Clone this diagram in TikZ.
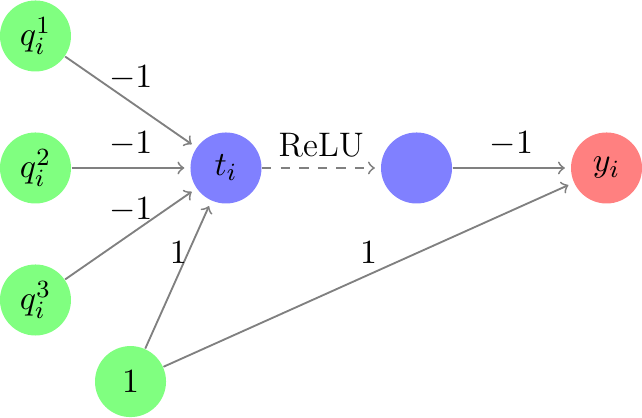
\documentclass[tikz,border=0pt]{standalone}
\usepackage{tikz}
\usetikzlibrary{arrows.meta, positioning}
\usepackage{amsmath}

\begin{document}
\begin{tikzpicture}[>=to, font=\fontsize{11}{13}\selectfont,
    neuron/.style={circle, minimum size=0.807cm, inner sep=0pt},
    inneuron/.style={neuron, fill=green!50},
    hidneuron/.style={neuron, fill=blue!50},
    outneuron/.style={neuron, fill=red!50},
    conn/.style={->, semithick, gray, text=black, shorten >=1.8pt}]
  \useasboundingbox (0,0) rectangle (7.295,4.739);

  % Inputs
  \node[inneuron] (q1) at (0.403, 4.330) {$q_i^1$};
  \node[inneuron] (q2) at (0.403, 2.830) {$q_i^2$};
  \node[inneuron] (q3) at (0.403, 1.330) {$q_i^3$};
  \node[inneuron] (bias) at (1.483, 0.403) {$1$};

  % Hidden and output
  \node[hidneuron] (t) at (2.568, 2.830) {$t_i$};
  \node[hidneuron] (relu) at (4.733, 2.830) {};
  \node[outneuron] (y) at (6.892, 2.830) {$y_i$};

  % Weights
  \draw[conn] (q1) -- (t) node[midway, above] {$-1$};
  \draw[conn] (q2) -- (t) node[midway, above] {$-1$};
  \draw[conn] (q3) -- (t) node[midway, above] {$-1$};
  \draw[conn] (bias) -- (t) node[midway, above] {$1$};
  \draw[conn, dashed] (t) -- (relu) node[midway, above] {ReLU};
  \draw[conn] (relu) -- (y) node[midway, above] {$-1$};
  \draw[conn] (bias) -- (y) node[midway, above] {$1$};
\end{tikzpicture}
\end{document}
